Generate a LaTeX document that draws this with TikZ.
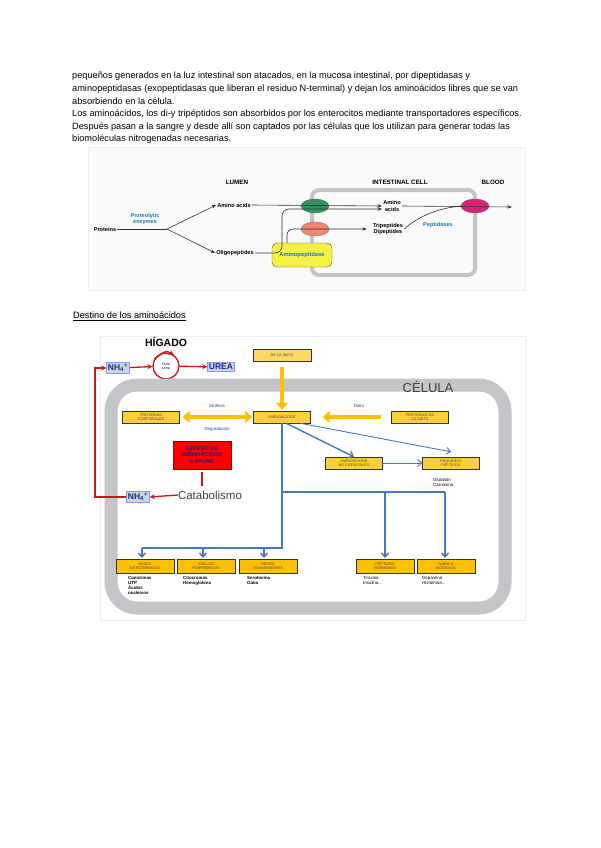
\documentclass[tikz,border=0pt]{standalone}
\usepackage{fontspec}
\setmainfont{Liberation Sans}
\usetikzlibrary{shapes.geometric,arrows.meta,positioning}

\definecolor{enzblue}{RGB}{30,120,175}
\definecolor{memgreen}{RGB}{45,150,95}
\definecolor{memsalmon}{RGB}{242,135,112}
\definecolor{mempink}{RGB}{215,35,115}
\definecolor{ampyellow}{RGB}{246,240,70}
\definecolor{wallgray}{RGB}{196,197,200}
\definecolor{yboxc}{RGB}{255,206,60}
\definecolor{ybotc}{RGB}{255,192,0}
\definecolor{yarrc}{RGB}{255,190,0}
\definecolor{lineblue}{RGB}{72,118,192}
\definecolor{labblue}{RGB}{40,60,160}
\definecolor{darkred}{RGB}{205,20,25}
\definecolor{nhfill}{RGB}{198,214,240}
\definecolor{nhtext}{RGB}{30,40,140}
\definecolor{navy}{RGB}{30,30,125}

\begin{document}
\begin{tikzpicture}[x=1pt, y=-1pt,
  para/.style={anchor=north west, align=left, inner sep=0pt, font=\fontsize{9.2}{12.6}\selectfont},
  panel/.style={draw=black!7, fill=black!2},
  hdr/.style={font=\fontsize{6.3}{7}\selectfont\bfseries},
  lbl/.style={font=\fontsize{5.6}{6.2}\selectfont\bfseries, align=center, inner sep=1pt},
  enz/.style={lbl, text=enzblue},
  memb/.style={ellipse, draw=black!55, minimum width=28pt, minimum height=14pt, inner sep=0pt},
  arr/.style={-{Stealth[length=4.5pt]}, line width=0.6pt, black!80},
  ybox/.style={draw=black!80, fill=yboxc, font=\fontsize{3.8}{4.2}\selectfont, text=black!70, align=center, inner sep=0.5pt, minimum width=57pt, minimum height=12pt},
  ybot/.style={ybox, fill=ybotc, line width=0.7pt, minimum width=58pt, minimum height=14pt},
  nh/.style={fill=nhfill, draw=nhfill!70!blue, text=nhtext, font=\fontsize{8.5}{9}\selectfont\bfseries, inner sep=1.5pt},
  rline/.style={draw=darkred, line width=1.3pt},
  rarr/.style={rline, -{Stealth[length=5pt,width=5pt]}},
  yarr/.style={draw=yarrc, line width=4pt, -{Triangle[length=7pt,width=12pt]}},
  bline/.style={draw=lineblue, line width=1.4pt},
  barr/.style={bline, -{Straight Barb[length=4pt,width=7pt]}},
  small/.style={font=\fontsize{4.4}{5}\selectfont, text=labblue, inner sep=0.5pt},
  sub/.style={anchor=north west, align=left, font=\fontsize{4.4}{5.2}\selectfont\bfseries, inner sep=0pt}
]
\fill[white] (0,0) rectangle (600,848);
\useasboundingbox (0,0) rectangle (600,848);

% Texto
\node[para] (intro) at (72,72) {pequeños generados en la luz intestinal son atacados, en la mucosa intestinal, por dipeptidasas y\\
aminopeptidasas (exopeptidasas que liberan el residuo N-terminal) y dejan los aminoácidos libres que se van\\
absorbiendo en la célula.\\
Los aminoácidos, los di-y tripéptidos son absorbidos por los enterocitos mediante transportadores específicos.\\
Después pasan a la sangre y desde allí son captados por las células que los utilizan para generar todas las\\
biomoléculas nitrogenadas necesarias.};

% Absorcion intestinal
\draw[panel] (88,147) rectangle (525,290);
\draw[wallgray, line width=4pt, rounded corners=7pt] (312,190) rectangle (475,275);

\node[hdr] (lumen) at (237,182) {LUMEN};
\node[hdr] (icell) at (400,182) {INTESTINAL CELL};
\node[hdr] (blood) at (493,182) {BLOOD};

\node[lbl] (proteins) at (105,229) {Proteins};
\node[enz] (enzymes) at (145,219) {Proteolytic\\enzymes};
\coordinate (split) at (167,229);
\node[lbl] (aa1) at (234,205) {Amino acids};
\node[lbl] (oligo) at (235,253) {Oligopeptides};

\node[memb, fill=memgreen] (green) at (315,206) {};
\node[memb, fill=memsalmon] (salmon) at (315,229) {};
\node[memb, fill=mempink] (pink) at (475,206) {};
\node[draw=black!70, fill=ampyellow, rounded corners=5pt, minimum width=60pt, minimum height=24pt,
  font=\fontsize{5.8}{6}\selectfont\bfseries, text=enzblue] (ampep) at (302,255) {Aminopeptidase};

\node[lbl] (aa2) at (392,206) {Amino\\acids};
\node[lbl] (tridi) at (388,229) {Tripeptides\\Dipeptides};
\node[enz] (pept) at (438,225) {Peptidases};
\coordinate (out) at (512,207);

\draw[line width=0.6pt, black!80] (proteins.east) -- (split);
\draw[arr] (split) -- (aa1.west);
\draw[arr] (split) -- (oligo.west);
\draw[arr] (aa1.east) -- (aa2.west);
\draw[arr] (aa2.east) -- (out);
\draw[arr, rounded corners=7pt] (oligo.east) -- (282,253) -- (282,209) -- ([yshift=-3pt]aa2.west);
\draw[arr, rounded corners=6pt] ([xshift=-15pt]ampep.north) |- ([xshift=-5pt]tridi.west);
\draw[line width=0.6pt, black!80] (tridi.east) .. controls (420,215) and (440,208) .. (pink.west);

% Destino de los aminoacidos
\node[anchor=west, fill=black!5, inner sep=1pt, font=\fontsize{9.2}{9.5}\selectfont] (destino) at (72,316) {\underline{Destino de los aminoácidos}};
\draw[panel, fill=white] (100,336) rectangle (525,620);

% Higado
\node[font=\fontsize{10.5}{11}\selectfont\bfseries] (higado) at (166,342) {HÍGADO};
\node[nh] (nhtop) at (118,368) {NH\textsubscript{4}\textsuperscript{+}};
\node[circle, draw=darkred, line width=1.3pt, minimum size=26pt, inner sep=0pt, align=center,
  font=\fontsize{3.6}{4}\selectfont] (ciclo) at (166,366) {Ciclo\\Urea};
\node[nh] (urea) at (221,367) {UREA};
\draw[rarr] (nhtop) -- (ciclo);
\draw[rarr] (ciclo) -- (urea);
\draw[rarr] (ciclo.150) .. controls ([yshift=2pt]ciclo.north) .. (ciclo.55);

% Celula
\draw[wallgray, line width=13pt, rounded corners=26pt] (111,385) rectangle (505,608);
\node[font=\fontsize{13}{13}\selectfont, text=black!75] (celula) at (428,387) {CÉLULA};

\node[ybox, fill=yboxc!80!white, minimum width=58pt] (dieta) at (282,355) {DE LA DIETA};
\node[ybox] (amino) at (282,417) {AMINOÁCIDOS};
\node[ybox] (protc) at (151,417) {PROTEÍNAS\\CORPORALES};
\node[ybox] (protd) at (420,417) {PROTEÍNAS DE\\LA DIETA};
\node[ybox] (noes) at (354,463) {AMINOÁCIDOS\\NO ESENCIALES};
\node[ybox] (pequenos) at (451,463) {PEQUEÑOS\\PÉPTIDOS};

\draw[yarr, shorten <=6pt, shorten >=1pt] (dieta.south) -- (amino.north);
\draw[yarr, {Triangle[length=7pt,width=12pt]}-{Triangle[length=7pt,width=12pt]}, shorten <=3pt, shorten >=1pt] (protc) -- (amino);
\draw[yarr, shorten <=10pt, shorten >=12pt] (protd) -- (amino);
\node[small] (sint) at (217,406) {Síntesis};
\node[small] (degr) at (217,429) {Degradación};
\node[small] (dietlbl) at (359,406) {Dieta};

% Exceso y catabolismo
\node[draw=red!60!black, fill=red, minimum width=58pt, minimum height=28pt, inner sep=0.5pt, align=center,
  font=\fontsize{5.6}{6.2}\selectfont\bfseries, text=navy] (exceso) at (202,455) {EXCESO DE\\AMINOÁCIDOS\\o AYUNO};
\node[font=\fontsize{11.5}{12}\selectfont, text=black!75, inner sep=0pt] (catab) at (210,495) {Catabolismo};
\node[nh] (nhbot) at (138,497) {NH\textsubscript{4}\textsuperscript{+}};
\coordinate (loop) at (95,0);
\draw[rline, shorten <=3pt, shorten >=5pt] (exceso.south) -- (exceso.south |- catab.north);
\draw[rarr] (catab.west) -- (nhbot.east);
\draw[rarr] (nhbot.west) -- (nhbot.west -| loop) |- (nhtop.west);

% Biomoleculas nitrogenadas
\node[ybot] (bases) at (145,566) {BASES\\NITROGENADAS};
\node[ybot] (anillos) at (206,566) {ANILLOS\\PORFIRÍNICOS};
\node[ybot] (neuro) at (268,566) {NEURO\\TRANSMISORES};
\node[ybot] (horm) at (385,566) {PÉPTIDOS\\HORMONAS};
\node[ybot] (aminas) at (446,566) {AMINAS\\BIÓGENAS};

\node[sub] (sbases) at (128,576) {Coenzimas\\UTP\\Ácidos\\nucleicos};
\node[sub] (sanillos) at (183,576) {Citocromos\\Hemoglobina};
\node[sub] (sneuro) at (247,576) {Serotonina\\Gaba};
\node[sub, font=\fontsize{4.4}{5.2}\selectfont] (shorm) at (363,576) {Tiroxina\\Insulina...};
\node[sub, font=\fontsize{4.4}{5.2}\selectfont] (saminas) at (422,576) {Dopamina\\Histamina...};
\node[sub, font=\fontsize{4.4}{5.2}\selectfont] (speq) at (433,478) {Glutatión\\Carnosina};

\coordinate (trunk) at (282,548);
\coordinate (fork) at (282,492);
\draw[bline] (amino.south) -- (trunk) -- (trunk -| 142,0);
\foreach \b/\x in {bases/142,anillos/203,neuro/264}
  \draw[barr] (\x,548) -- (\x,558);
\draw[bline] (fork) -- (445,492);
\foreach \x in {385,445}
  \draw[barr] (\x,492) -- (\x,558);
\draw[barr] ([xshift=4pt]amino.south) -- (noes.north);
\draw[barr, line width=0.9pt] ([xshift=18pt]amino.south) -- ([yshift=5pt]pequenos.north);
\draw[barr, line width=0.9pt] (noes.east) -- (pequenos.west);
\end{tikzpicture}
\end{document}
